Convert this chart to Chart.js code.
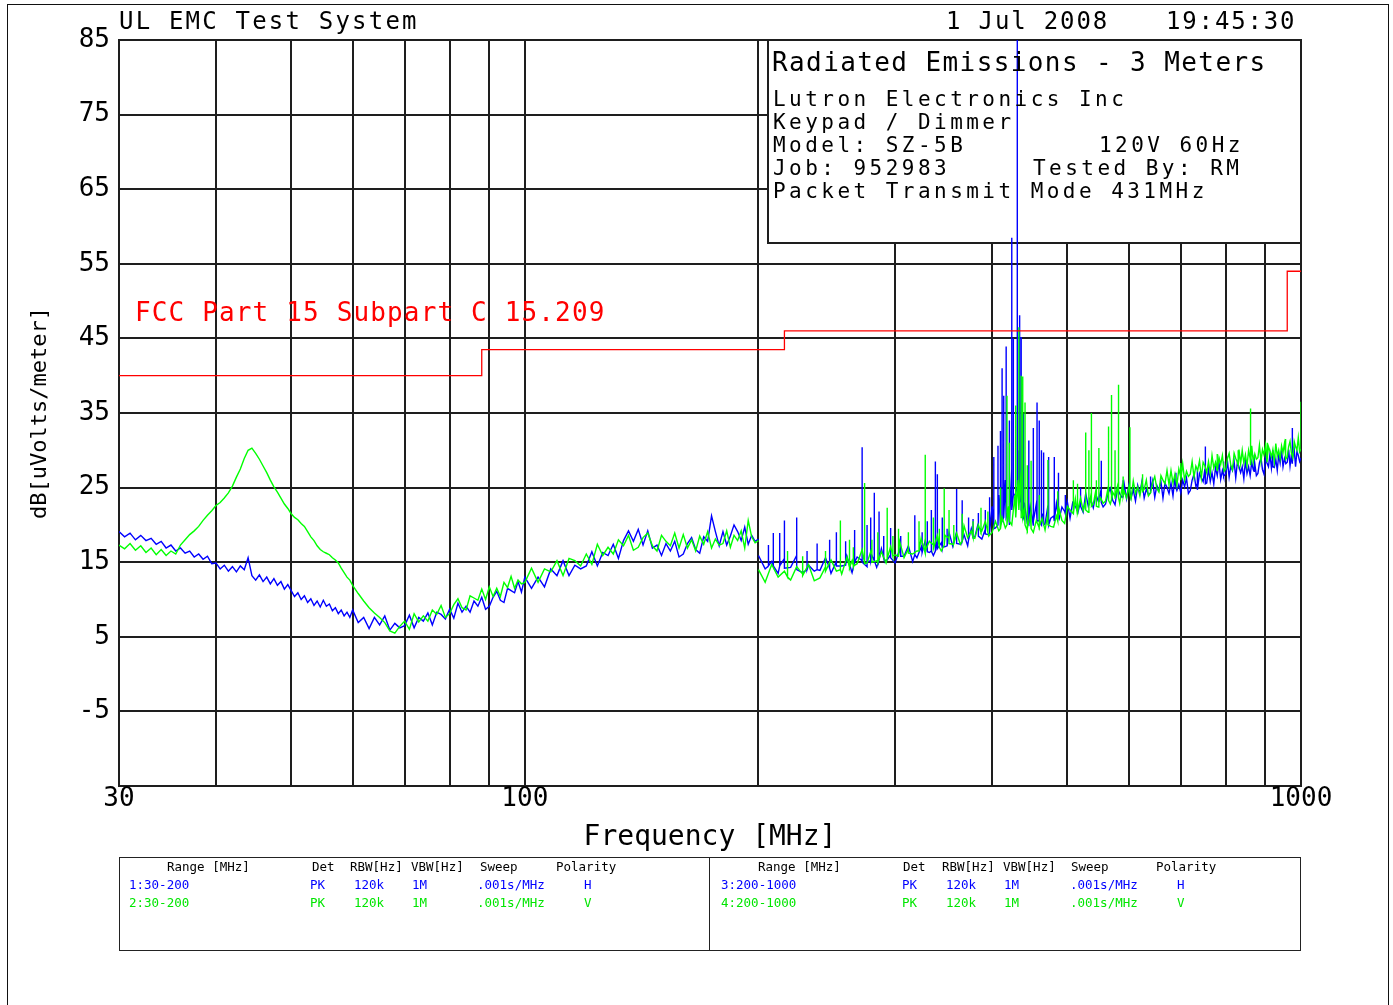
<!DOCTYPE html>
<html lang="en">
<head>
<meta charset="utf-8">
<title>Radiated Emissions - 3 Meters</title>
<script src="https://cdn.jsdelivr.net/npm/chart.js@4.4.1/dist/chart.umd.min.js"></script>
<style>
  html, body { margin: 0; padding: 0; background: #fff; }
  #page { position: relative; width: 1393px; height: 1005px; overflow: hidden;
          font-family: 'DejaVu Sans Mono', monospace; color: #000; }
  #frame { position: absolute; left: 7px; top: 4px; width: 1382px; height: 1100px;
           border: 1.5px solid #111; box-sizing: border-box; }
  #plot { position: absolute; left: 0; top: 0; }
  .t { position: absolute; white-space: pre; line-height: 1; }
  .hd { font-size: 24px; letter-spacing: 2.2px; }
  .inf { font-size: 21px; letter-spacing: 3.46px; }
  .tbl { position: absolute; top: 857px; height: 94px; border: 1.5px solid #222; box-sizing: border-box; }
  .sm { font-size: 12.5px; }
  .b { color: #0000ff; }
  .g { color: #00e600; }
</style>
</head>
<body>
<div id="page">
  <div id="frame"></div>
  <canvas id="plot" width="1393" height="1005"></canvas>

  <!-- header -->
  <div class="t hd" style="left:119px;top:8.7px">UL EMC Test System</div>
  <div class="t hd" style="left:946px;top:8.7px;letter-spacing:1.85px">1 Jul 2008</div>
  <div class="t hd" style="left:1166px;top:8.7px;letter-spacing:1.85px">19:45:30</div>

  <!-- test info -->
  <div class="t" style="left:772px;top:49px;font-size:26px;letter-spacing:1.4px">Radiated Emissions - 3 Meters</div>
  <div class="t inf" style="left:773px;top:89.2px">Lutron Electronics Inc</div>
  <div class="t inf" style="left:773px;top:112.2px">Keypad / Dimmer</div>
  <div class="t inf" style="left:773px;top:135.2px">Model: SZ-5B</div>
  <div class="t inf" style="left:1099px;top:135.2px">120V 60Hz</div>
  <div class="t inf" style="left:773px;top:158.2px">Job: 952983</div>
  <div class="t inf" style="left:1033px;top:158.2px">Tested By: RM</div>
  <div class="t inf" style="left:773px;top:181.2px">Packet Transmit Mode 431MHz</div>

  <!-- limit label -->
  <div class="t" style="left:135px;top:299px;font-size:26px;letter-spacing:1.15px;color:#ff0000">FCC Part 15 Subpart C 15.209</div>

  <!-- scan settings -->
  <div class="tbl" style="left:119px;width:591px"></div>
  <div class="tbl" style="left:709px;width:592px;border-left:none"></div>

  <div class="t sm" style="left:167px;top:861.4px">Range [MHz]</div>
  <div class="t sm" style="left:312px;top:861.4px">Det</div>
  <div class="t sm" style="left:350px;top:861.4px">RBW[Hz]</div>
  <div class="t sm" style="left:411px;top:861.4px">VBW[Hz]</div>
  <div class="t sm" style="left:480px;top:861.4px">Sweep</div>
  <div class="t sm" style="left:556px;top:861.4px">Polarity</div>
  <div class="t sm b" style="left:129px;top:879.4px">1:30-200</div>
  <div class="t sm b" style="left:310px;top:879.4px">PK</div>
  <div class="t sm b" style="left:354px;top:879.4px">120k</div>
  <div class="t sm b" style="left:412px;top:879.4px">1M</div>
  <div class="t sm b" style="left:477px;top:879.4px">.001s/MHz</div>
  <div class="t sm b" style="left:584px;top:879.4px">H</div>
  <div class="t sm g" style="left:129px;top:897.4px">2:30-200</div>
  <div class="t sm g" style="left:310px;top:897.4px">PK</div>
  <div class="t sm g" style="left:354px;top:897.4px">120k</div>
  <div class="t sm g" style="left:412px;top:897.4px">1M</div>
  <div class="t sm g" style="left:477px;top:897.4px">.001s/MHz</div>
  <div class="t sm g" style="left:584px;top:897.4px">V</div>

  <div class="t sm" style="left:758px;top:861.4px">Range [MHz]</div>
  <div class="t sm" style="left:903px;top:861.4px">Det</div>
  <div class="t sm" style="left:942px;top:861.4px">RBW[Hz]</div>
  <div class="t sm" style="left:1003px;top:861.4px">VBW[Hz]</div>
  <div class="t sm" style="left:1071px;top:861.4px">Sweep</div>
  <div class="t sm" style="left:1156px;top:861.4px">Polarity</div>
  <div class="t sm b" style="left:721px;top:879.4px">3:200-1000</div>
  <div class="t sm b" style="left:902px;top:879.4px">PK</div>
  <div class="t sm b" style="left:946px;top:879.4px">120k</div>
  <div class="t sm b" style="left:1004px;top:879.4px">1M</div>
  <div class="t sm b" style="left:1070px;top:879.4px">.001s/MHz</div>
  <div class="t sm b" style="left:1177px;top:879.4px">H</div>
  <div class="t sm g" style="left:721px;top:897.4px">4:200-1000</div>
  <div class="t sm g" style="left:902px;top:897.4px">PK</div>
  <div class="t sm g" style="left:946px;top:897.4px">120k</div>
  <div class="t sm g" style="left:1004px;top:897.4px">1M</div>
  <div class="t sm g" style="left:1070px;top:897.4px">.001s/MHz</div>
  <div class="t sm g" style="left:1177px;top:897.4px">V</div>
</div>

<script>
'use strict';

// ---- scan 1/2: 30-200 MHz (MHz, dBuV/m) ----
const freqLow = [
  30, 30.5, 31, 31.5, 32, 32.5, 33, 33.5, 34, 34.5,
  35, 35.5, 36, 36.5, 37, 37.5, 38, 38.5, 39, 39.5,
  40, 40.5, 41, 41.5, 42, 42.5, 43, 43.5, 44, 44.5,
  45, 45.5, 46, 46.5, 47, 47.5, 48, 48.5, 49, 49.5,
  50, 50.5, 51, 51.5, 52, 52.5, 53, 53.5, 54, 54.5,
  55, 55.5, 56, 56.5, 57, 57.5, 58, 58.5, 59, 59.5,
  60, 61, 62, 63, 64, 65, 66, 67, 68, 69,
  70, 71, 72, 73, 74, 75, 76, 77, 78, 79,
  80, 81, 82, 83, 84, 85, 86, 87, 88, 89,
  90, 91, 92, 93, 94, 95, 96, 97, 98, 99,
  100, 102, 104, 106, 108, 110, 112, 114, 116, 118,
  120, 122, 124, 126, 128, 130, 132, 134, 136, 138,
  140, 142, 144, 146, 148, 150, 152, 154, 156, 158,
  160, 162, 164, 166, 168, 170, 172, 174, 176, 178,
  180, 182, 184, 186, 188, 190, 192, 194, 196, 198,
  200
];
// horizontal antenna
const hLow = [
  19.1, 18.4, 18.9, 18.0, 18.6, 17.9, 18.2, 17.4, 17.8, 16.9,
  17.3, 16.5, 16.9, 16.2, 16.5, 15.7, 16.1, 15.4, 15.8, 14.8,
  14.9, 14.1, 14.6, 13.8, 14.4, 13.7, 14.5, 14.0, 15.6, 13.2,
  12.6, 13.3, 12.4, 13.0, 12.1, 12.8, 11.9, 12.4, 11.4, 12.0,
  11.2, 10.4, 10.9, 10.0, 10.5, 9.6, 10.1, 9.2, 9.8, 9.0,
  9.9, 9.1, 9.4, 8.5, 8.9, 8.1, 8.6, 7.8, 8.3, 7.6,
  8.6, 6.9, 7.6, 6.1, 7.6, 6.6, 7.8, 5.9, 6.8, 6.2,
  6.5, 7.9, 6.2, 7.6, 7.1, 8.2, 6.6, 8.3, 8.0, 7.4,
  8.7, 7.5, 9.5, 8.3, 9.1, 8.3, 9.8, 9.1, 10.3, 8.7,
  9.1, 10.3, 11.1, 9.9, 9.6, 11.5, 11.2, 10.9, 12.4, 11.0,
  13.0, 11.5, 13.0, 11.7, 14.1, 13.2, 15.2, 13.2, 14.6, 14.1,
  14.5, 16.4, 14.5, 16.3, 15.9, 17.4, 15.5, 17.9, 19.2, 17.8,
  19.4, 17.3, 19.2, 16.9, 17.3, 15.9, 17.5, 16.5, 17.8, 15.7,
  16.1, 17.5, 18.3, 16.7, 16.2, 18.4, 17.8, 21.2, 19.1, 17.2,
  19.1, 17.3, 18.5, 20.0, 19.1, 17.9, 19.7, 17.4, 18.6, 17.8,
  18.1
];
// vertical antenna
const vLow = [
  17.3, 16.8, 17.5, 16.6, 17.2, 16.3, 16.9, 16.0, 16.7, 15.9,
  16.5, 16.1, 17.3, 18.0, 18.7, 19.2, 19.8, 20.6, 21.3, 21.9,
  22.6, 23.0, 23.6, 24.3, 25.2, 26.4, 27.5, 28.9, 30.0, 30.3,
  29.6, 28.8, 27.9, 27.0, 26.0, 25.1, 24.4, 23.6, 22.8, 22.2,
  21.5, 21.0, 20.7, 20.2, 19.8, 19.1, 18.4, 17.9, 17.2, 16.7,
  16.4, 16.2, 16.0, 15.6, 15.3, 14.9, 14.2, 13.6, 13.0, 12.6,
  11.9, 10.8, 9.8, 8.9, 8.2, 7.6, 6.9, 5.8, 5.5, 6.4,
  7.1, 6.0, 8.1, 7.0, 7.8, 7.1, 8.6, 8.0, 9.2, 7.6,
  8.1, 9.3, 10.1, 8.9, 8.6, 10.5, 10.2, 9.9, 11.4, 10.0,
  11.7, 10.4, 11.5, 10.4, 12.3, 11.6, 13.1, 11.5, 12.6, 12.1,
  12.3, 14.2, 12.3, 14.1, 13.7, 15.2, 13.2, 15.5, 15.2, 14.5,
  16.1, 14.7, 17.4, 15.9, 17.0, 16.1, 18.0, 17.2, 18.6, 16.6,
  17.0, 18.3, 18.9, 17.2, 16.5, 18.6, 17.8, 17.2, 18.9, 16.9,
  18.7, 16.9, 18.0, 16.5, 18.5, 17.4, 19.1, 16.9, 18.1, 17.3,
  17.5, 19.2, 17.0, 18.6, 17.9, 19.2, 16.9, 20.6, 18.4, 17.6,
  17.9
];

// ---- scan 3/4: 200-1000 MHz ----
const freqHigh = [
  200, 204, 208, 212, 216, 220, 224, 228, 232, 236,
  240, 244, 248, 252, 256, 260, 264, 268, 272, 276,
  280, 284, 288, 292, 296, 300, 304, 308, 312, 316,
  320, 324, 328, 332, 336, 340, 344, 348, 352, 356,
  360, 364, 368, 372, 376, 380, 384, 388, 392, 396,
  400, 404, 408, 412, 416, 420, 424, 428, 432, 436,
  440, 444, 448, 452, 456, 460, 464, 468, 472, 476,
  480, 484, 488, 492, 496, 500, 504, 508, 512, 516,
  520, 524, 528, 532, 536, 540, 544, 548, 552, 556,
  560, 564, 568, 572, 576, 580, 584, 588, 592, 596,
  600, 604, 608, 612, 616, 620, 624, 628, 632, 636,
  640, 644, 648, 652, 656, 660, 664, 668, 672, 676,
  680, 684, 688, 692, 696, 700, 704, 708, 712, 716,
  720, 724, 728, 732, 736, 740, 744, 748, 752, 756,
  760, 764, 768, 772, 776, 780, 784, 788, 792, 796,
  800, 804, 808, 812, 816, 820, 824, 828, 832, 836,
  840, 844, 848, 852, 856, 860, 864, 868, 872, 876,
  880, 884, 888, 892, 896, 900, 904, 908, 912, 916,
  920, 924, 928, 932, 936, 940, 944, 948, 952, 956,
  960, 964, 968, 972, 976, 980, 984, 988, 992, 996,
  1000
];
const hHigh = [
  15.9, 14.1, 15.1, 13.5, 15.5, 14.3, 15.9, 13.6, 14.6, 13.8,
  13.9, 15.6, 13.5, 15.1, 14.5, 15.8, 13.6, 15.7, 15.2, 14.4,
  15.9, 14.3, 16.8, 15.1, 16.0, 14.9, 16.7, 15.8, 17.2, 15.1,
  15.6, 17.0, 17.9, 16.3, 15.9, 18.1, 17.6, 17.1, 19.0, 17.1,
  19.1, 17.4, 18.7, 17.2, 19.5, 18.4, 20.3, 18.1, 19.4, 18.7,
  22.5, 19.6, 24.0, 21.0, 26.0, 22.0, 27.5, 24.0, 30.0, 25.0,
  23.0, 20.2, 22.4, 19.9, 22.8, 20.6, 21.5, 20.1, 22.6, 20.9,
  21.2, 22.9, 20.8, 22.4, 21.8, 23.1, 20.9, 23.0, 22.5, 21.7,
  23.2, 21.7, 24.2, 22.5, 23.4, 22.3, 24.1, 23.2, 24.5, 22.4,
  22.8, 24.2, 24.9, 23.3, 22.7, 24.9, 24.2, 23.7, 25.4, 23.5,
  25.3, 23.6, 24.7, 23.2, 25.3, 24.2, 25.9, 23.6, 24.8, 24.0,
  24.3, 25.9, 23.7, 25.3, 24.6, 25.8, 23.6, 25.6, 25.0, 24.2,
  25.6, 23.9, 26.4, 24.6, 25.4, 24.3, 26.0, 25.1, 26.3, 24.2,
  24.6, 26.0, 26.8, 25.2, 24.7, 26.9, 26.3, 25.8, 27.5, 25.6,
  27.5, 25.8, 27.0, 25.5, 27.7, 26.6, 28.4, 26.1, 27.3, 26.6,
  26.8, 28.5, 26.4, 27.9, 27.3, 28.5, 26.3, 28.4, 27.8, 27.0,
  27.8, 26.2, 28.6, 26.9, 27.8, 26.6, 28.4, 27.4, 28.7, 26.6,
  26.9, 28.3, 29.0, 27.4, 26.8, 29.0, 28.3, 27.8, 29.5, 27.6,
  29.4, 27.7, 28.8, 27.3, 29.4, 28.3, 30.0, 27.8, 28.9, 28.2,
  28.4, 30.1, 27.9, 29.5, 28.8, 30.1, 27.8, 29.9, 29.3, 28.5,
  29.0
];
const vHigh = [
  14.0, 12.3, 14.7, 13.0, 13.8, 12.6, 14.4, 13.4, 14.7, 12.5,
  12.9, 14.4, 15.3, 13.8, 13.4, 15.7, 15.2, 14.8, 16.7, 14.9,
  16.9, 15.2, 16.4, 14.9, 17.1, 16.0, 17.8, 15.6, 16.8, 16.1,
  16.5, 18.2, 16.2, 17.8, 17.3, 18.6, 16.5, 18.6, 18.2, 17.4,
  18.9, 17.4, 19.9, 18.3, 19.2, 18.2, 20.0, 19.2, 20.5, 18.5,
  19.0, 20.5, 19.2, 21.0, 19.6, 22.5, 20.0, 24.0, 26.0, 27.5,
  22.0, 19.2, 21.4, 19.0, 20.6, 19.6, 20.9, 19.3, 21.5, 19.8,
  19.7, 21.2, 22.1, 20.6, 20.2, 22.5, 22.0, 21.6, 23.5, 21.7,
  23.6, 21.9, 23.2, 21.7, 23.9, 22.8, 24.6, 22.4, 23.6, 22.9,
  23.2, 24.9, 22.8, 24.4, 23.8, 25.1, 22.9, 25.0, 24.5, 23.6,
  25.1, 23.5, 25.9, 24.2, 25.1, 23.9, 25.7, 24.8, 26.0, 23.9,
  24.3, 25.7, 26.5, 24.9, 24.4, 26.6, 26.0, 25.5, 27.3, 25.4,
  27.3, 25.6, 26.8, 25.3, 27.5, 26.4, 28.2, 26.0, 27.2, 26.5,
  26.8, 28.5, 26.4, 27.9, 27.3, 28.6, 26.3, 28.4, 27.9, 27.0,
  28.5, 26.9, 29.3, 27.6, 28.4, 27.3, 29.0, 28.1, 29.3, 27.2,
  27.5, 28.9, 29.6, 28.0, 27.4, 29.6, 28.9, 28.4, 30.1, 28.2,
  30.0, 28.3, 29.4, 27.9, 30.0, 28.9, 30.6, 28.4, 29.5, 28.8,
  29.0, 30.7, 28.5, 30.1, 29.4, 30.7, 28.4, 30.5, 29.9, 29.1,
  30.1, 28.5, 30.9, 29.2, 30.0, 28.9, 30.6, 29.7, 30.9, 28.8,
  29.1, 30.5, 31.2, 29.6, 29.0, 31.2, 30.5, 30.0, 31.7, 29.8,
  30.2
];

// narrowband emissions: [MHz, floor, peak]
const hSpikes = [
  [206, 14.5, 17.3], [209, 14.5, 18.9], [213, 14.5, 18.9], [216, 14.2, 20.6], [224, 14.0, 21.0], [231, 14.0, 16.5],
  [238, 14.0, 17.5], [247, 14.2, 18.0], [252, 14.5, 19.0], [259, 14.6, 17.8], [266, 15.0, 19.3], [272, 15.0, 30.4],
  [276, 15.0, 20.0], [279, 15.2, 21.0], [282, 15.2, 24.3], [286, 15.3, 21.8], [290, 15.5, 18.5], [296, 15.6, 19.6],
  [305, 15.8, 18.5], [318, 16.0, 21.3], [325, 16.3, 19.0], [330, 16.4, 20.5], [334, 16.5, 22.0], [338, 16.5, 28.5],
  [340, 16.8, 26.8], [345, 17.0, 21.0], [350, 17.2, 19.5], [360, 17.5, 24.8], [366, 17.8, 23.3], [373, 18.0, 21.0],
  [378, 18.3, 20.8], [384, 18.5, 21.6], [392, 18.8, 22.0], [397, 19.0, 23.7],
  [402, 19.5, 29.1], [407, 20.0, 30.6], [410, 20.0, 32.6], [412, 20.5, 41.0], [414, 21.0, 37.3], [417, 21.0, 43.9],
  [421, 20.0, 34.0], [424, 22.0, 58.5], [426, 24.0, 45.0], [431, 25.0, 90.0], [434, 23.0, 48.1], [436, 22.0, 45.2],
  [439, 21.0, 34.9], [446, 20.0, 31.3], [452, 20.5, 33.0], [457, 20.5, 36.4], [460, 20.5, 34.0], [463, 20.0, 30.0],
  [466, 20.0, 29.7], [473, 20.0, 29.1], [481, 20.5, 29.1], [487, 21.0, 27.0], [497, 21.5, 24.0], [520, 22.5, 25.0],
  [553, 23.0, 28.6], [590, 23.8, 26.0], [640, 24.5, 26.5], [690, 25.0, 27.0], [735, 25.5, 27.5], [753, 25.5, 30.5],
  [795, 26.5, 28.5], [870, 27.2, 29.4], [920, 27.8, 30.0], [974, 28.3, 33.0]
];
const vSpikes = [
  [218, 13.0, 16.5], [228, 13.2, 15.8], [244, 13.8, 16.5], [255, 14.0, 20.6], [262, 14.3, 18.0], [265, 14.5, 17.0],
  [274, 14.8, 25.6], [280, 15.0, 18.0], [285, 15.0, 19.0], [293, 15.5, 22.3], [298, 15.8, 18.5], [303, 15.8, 19.5],
  [312, 16.2, 19.0], [322, 16.5, 20.5], [328, 16.5, 29.4], [336, 16.8, 21.0], [342, 17.0, 19.5], [347, 17.3, 24.9],
  [352, 17.5, 22.0], [357, 17.5, 20.0], [366, 17.8, 21.5], [378, 18.3, 20.5], [387, 19.0, 22.3], [395, 19.0, 21.8],
  [410, 19.5, 25.0], [418, 20.0, 37.3], [421, 20.5, 31.0], [429, 21.0, 36.0], [433, 22.0, 46.5], [436, 21.0, 40.0],
  [438, 21.0, 39.9], [441, 20.0, 36.4], [444, 19.5, 28.0], [449, 19.5, 28.6], [460, 19.8, 24.0], [472, 20.0, 28.7],
  [486, 20.5, 24.5], [509, 21.5, 26.0], [515, 21.5, 25.5], [528, 22.0, 32.4], [533, 22.5, 30.0], [537, 22.5, 35.0],
  [545, 22.5, 26.0], [549, 23.0, 30.3], [565, 23.3, 33.2], [570, 23.4, 37.4], [576, 23.5, 30.0], [582, 23.6, 38.8],
  [590, 23.8, 26.5], [602, 24.0, 33.1], [625, 24.5, 26.8], [700, 26.0, 28.3], [780, 27.2, 29.5], [830, 28.0, 30.0],
  [861, 28.0, 35.6], [905, 29.0, 31.0], [955, 29.5, 31.5], [1000, 30.2, 36.5]
];

// FCC 15.209 limit (3 m), stepped
const limitFreq = [30, 88, 216, 960, 1000];
const limitLevel = [40, 43.5, 46, 54, 54];

// axes
const xGridValues = [30, 40, 50, 60, 70, 80, 90, 100, 200, 300, 400, 500, 600, 700, 800, 900, 1000];
const xLabelValues = [30, 100, 1000];
const yMin = -15, yMax = 85, yStep = 10;

const BLUE = '#0000ff', GREEN = '#00ff00', RED = '#ff0000', GRID = '#1e1e1e';

function trace(freqs, levels, spikes){
  const pts = freqs.map((f, i) => ({ x: f, y: levels[i] }));
  (spikes || []).forEach(([f, lo, hi]) => {
    pts.push({ x: f, y: lo }, { x: f, y: hi }, { x: f, y: lo });
  });
  return pts.sort((a, b) => a.x - b.x);
}

function line(data, color, order){
  return { data, borderColor: color, borderWidth: 1.4, pointRadius: 0, tension: 0, order };
}

// white panel with the test details, drawn over the grid but under the traces
const infoPanel = {
  id: 'infoPanel',
  beforeDatasetsDraw(chart){
    const { ctx, chartArea: a } = chart;
    const w = 533, h = 203;
    ctx.save();
    ctx.fillStyle = '#fff';
    ctx.fillRect(a.right - w, a.top, w, h);
    ctx.strokeStyle = GRID;
    ctx.lineWidth = 2;
    ctx.strokeRect(a.right - w, a.top, w, h);
    ctx.restore();
  }
};

Chart.defaults.font.family = "'DejaVu Sans Mono', monospace";
Chart.defaults.color = '#000';

const limitData = limitFreq.map((f, i) => ({ x: f, y: limitLevel[i] }));

new Chart(document.getElementById('plot'), {
  type: 'line',
  data: {
    datasets: [
      Object.assign(line(limitData, RED, 0), { stepped: true, borderWidth: 1.3 }),
      line(trace(freqLow, vLow), GREEN, 1),
      line(trace(freqHigh, vHigh, vSpikes), GREEN, 1),
      line(trace(freqLow, hLow), BLUE, 2),
      line(trace(freqHigh, hHigh, hSpikes), BLUE, 2)
    ]
  },
  options: {
    responsive: false,
    animation: false,
    events: [],
    layout: { padding: { left: 0, top: 40, right: 92, bottom: 139 } },
    plugins: { legend: { display: false }, tooltip: { enabled: false } },
    scales: {
      x: {
        type: 'logarithmic',
        min: 30, max: 1000,
        afterBuildTicks: s => { s.ticks = xGridValues.map(value => ({ value })); },
        afterFit: s => { s.height = 80; },
        grid: { color: GRID, lineWidth: 2, drawTicks: false },
        border: { color: GRID, width: 2 },
        ticks: {
          autoSkip: false, maxRotation: 0, padding: 0,
          font: { size: 26, lineHeight: 1 },
          callback: v => xLabelValues.includes(v) ? String(v) : ''
        },
        title: { display: true, text: 'Frequency [MHz]', font: { size: 28 }, padding: { top: 0, bottom: 11 } }
      },
      y: {
        min: yMin, max: yMax,
        afterFit: s => { s.width = 119; },
        grid: { color: GRID, lineWidth: 2, drawTicks: false },
        border: { color: GRID, width: 2 },
        ticks: {
          stepSize: yStep, padding: 9,
          font: { size: 26 },
          callback: v => v === yMin ? '' : String(v)
        },
        title: { display: true, text: 'dB[uVolts/meter]', font: { size: 22 }, padding: { top: 27, bottom: 0 } }
      }
    }
  },
  plugins: [infoPanel]
});
</script>
</body>
</html>
